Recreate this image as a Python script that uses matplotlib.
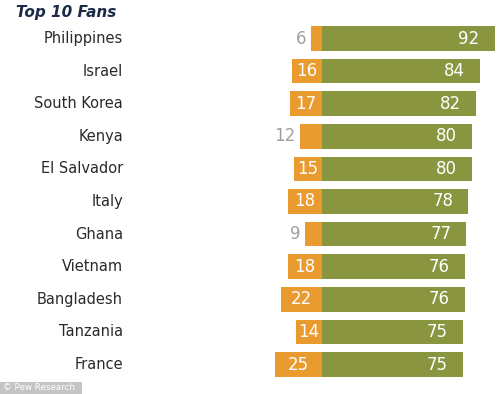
import matplotlib
matplotlib.use("Agg")
import matplotlib.pyplot as plt
from matplotlib.patches import Rectangle

countries = ["Philippines", "Israel", "South Korea", "Kenya", "El Salvador",
             "Italy", "Ghana", "Vietnam", "Bangladesh", "Tanzania", "France"]
unfavorable = [6, 16, 17, 12, 15, 18, 9, 18, 22, 14, 25]
favorable = [92, 84, 82, 80, 80, 78, 77, 76, 76, 75, 75]
title = "Top 10 Fans"
credit = "© Pew Research"

ORANGE = "#E99B2F"
GREEN = "#8A9540"

W, H = 500, 394
fig = plt.figure(figsize=(W / 100, H / 100), dpi=100)
ax = fig.add_axes([0, 0, 1, 1])
ax.set_axis_off()

# pixel mapping
x0_px = 322.0
px_per_unit = 1.875
row0_px = 38.5
row_pitch = 32.6
ax.set_xlim(-x0_px / px_per_unit, (W - x0_px) / px_per_unit)
ax.set_ylim((H - row0_px) / row_pitch, -row0_px / row_pitch)

ys = list(range(len(countries)))
bh = 0.75
ax.barh(ys, favorable, height=bh, left=0, color=GREEN, edgecolor="none")
ax.barh(ys, [-u for u in unfavorable], height=bh, left=0, color=ORANGE, edgecolor="none")

label_x = (123 - x0_px) / px_per_unit
for y, c, u, f in zip(ys, countries, unfavorable, favorable):
    ax.text(label_x, y, c, ha="right", va="center", fontsize=10.5,
            color="#2a2a2a", family="DejaVu Sans")
    ax.text(f - 8, y, str(f), ha="right", va="center", fontsize=12,
            color="white", family="DejaVu Sans")
    if u >= 13:
        ax.text(-u / 2, y, str(u), ha="center", va="center", fontsize=12,
                color="white", family="DejaVu Sans")
    else:
        ax.text(-u - 2.3, y, str(u), ha="right", va="center", fontsize=12,
                color="#a0a0a0", family="DejaVu Sans")

fig.text(16 / W, 1 - 12 / H, title, ha="left", va="center", fontsize=11,
         fontweight="bold", fontstyle="italic", color="#1c2a48",
         family="DejaVu Sans")

fig.patches.append(Rectangle((0, 0), 82 / W, 12 / H, transform=fig.transFigure,
                             facecolor="#c4c4c4", edgecolor="none"))
fig.text(3 / W, 6 / H, credit, ha="left", va="center", fontsize=6.3,
         color="white", family="DejaVu Sans")

fig.savefig("out.png", dpi=100)
